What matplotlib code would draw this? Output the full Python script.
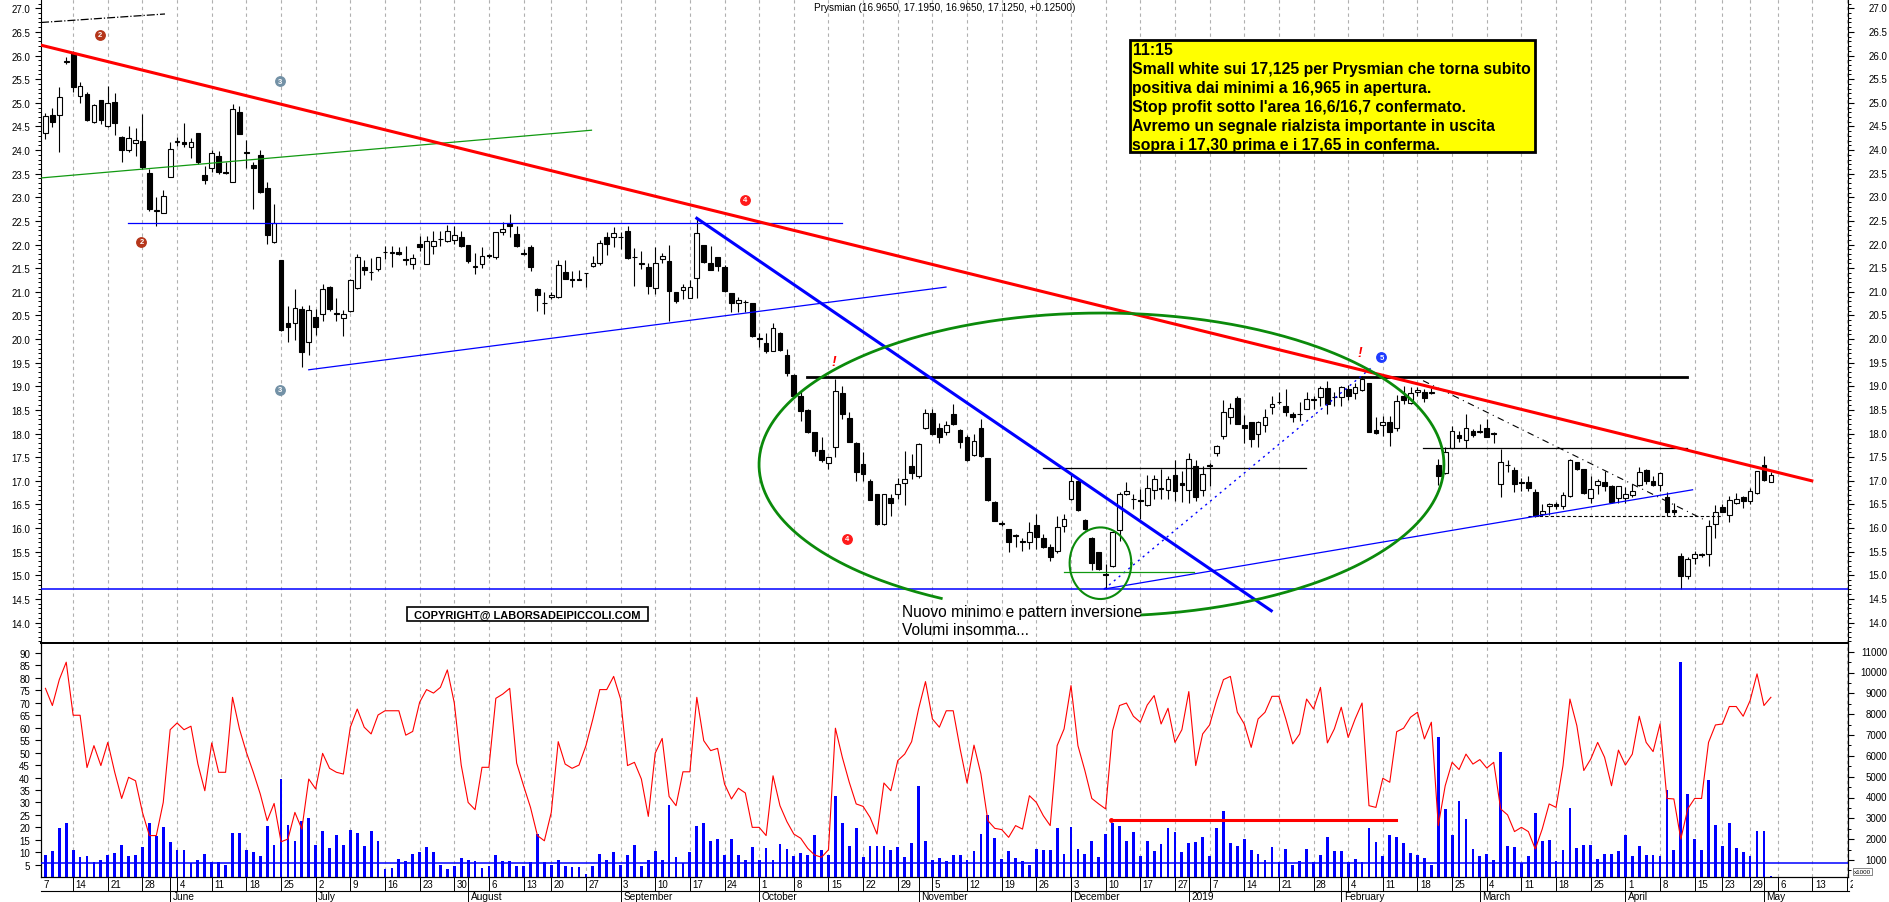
import numpy as np
import pandas as pd
import matplotlib
matplotlib.use("Agg")
import matplotlib.pyplot as plt
from matplotlib.patches import Rectangle
from matplotlib.ticker import MultipleLocator, FixedLocator, FormatStrFormatter
from matplotlib.transforms import Bbox, blended_transform_factory

plt.rcParams['font.family'] = ['Liberation Sans', 'DejaVu Sans']

# ------------------------------------------------------------------ data
# daily candles from 8 May 2018 to 3 May 2019 (Prysmian)
opens = [24.36, 24.74, 24.74, 25.87, 26.05, 25.15, 25.19, 24.6, 25.06, 24.5,
         25.01, 24.28, 24.01, 24.15, 24.2, 23.51, 22.72, 22.66, 23.44, 24.18,
         24.16, 24.06, 24.36, 23.47, 23.61, 23.87, 23.53, 23.33, 24.81, 23.96,
         23.68, 23.9, 23.19, 22.06, 21.67, 20.35, 20.34, 20.64, 19.93, 20.46,
         20.53, 21.11, 20.54, 20.44, 20.6, 21.09, 21.52, 21.42, 21.48, 21.85,
         21.83, 21.85, 21.69, 21.59, 22.01, 21.59, 21.96, 22.11, 22.07, 22.1,
         22.15, 21.99, 21.52, 21.59, 21.77, 21.73, 22.26, 22.45, 22.22, 21.82,
         21.94, 21.06, 20.77, 20.88, 20.88, 21.41, 21.26, 21.26, 21.39, 21.54,
         21.62, 22.17, 22.17, 22.16, 22.29, 21.74, 21.62, 21.53, 21.09, 21.69,
         21.66, 20.99, 21.04, 20.87, 21.29, 21.99, 21.61, 21.73, 21.52, 20.97,
         20.76, 20.79, 20.76, 20.02, 19.91, 19.75, 20.13, 19.66, 19.24, 18.79,
         18.5, 18.03, 17.66, 17.37, 17.72, 18.85, 18.32, 17.81, 17.36, 17.0,
         16.72, 16.09, 16.63, 16.72, 16.95, 17.32, 17.1, 18.11, 18.43, 18.11,
         18.03, 18.41, 18.08, 17.92, 17.55, 18.11, 17.48, 16.56, 16.1, 15.98,
         15.85, 15.72, 15.71, 16.06, 15.79, 15.59, 15.52, 16.05, 16.62, 17.0,
         16.18, 15.8, 15.49, 15.02, 15.2, 15.95, 16.72, 16.62, 16.59, 16.49,
         16.81, 16.84, 16.81, 17.12, 16.95, 16.81, 17.31, 16.81, 17.33, 17.59,
         17.94, 18.36, 18.75, 18.18, 18.25, 17.99, 18.18, 18.57, 18.67, 18.59,
         18.41, 18.42, 18.53, 18.73, 18.77, 18.96, 18.78, 18.77, 18.94, 18.86,
         18.92, 19.06, 18.08, 18.18, 18.24, 18.11, 18.8, 18.65, 18.87, 18.89,
         18.85, 17.33, 17.16, 17.69, 17.98, 17.86, 18.05, 18.03, 18.12, 18.01,
         16.93, 17.34, 17.23, 16.97, 16.97, 16.76, 16.3, 16.47, 16.5, 16.46,
         16.67, 17.39, 17.24, 16.64, 16.91, 16.98, 16.9, 16.63, 16.63, 16.69,
         16.92, 17.23, 16.99, 16.91, 16.65, 16.38, 15.4, 14.99, 15.37, 15.46,
         15.45, 16.09, 16.44, 16.28, 16.53, 16.65, 16.57, 16.74, 17.34, 16.965]
highs = [24.78, 24.9, 25.33, 25.96, 26.1, 25.43, 25.22, 24.97, 25.07, 25.36,
         25.2, 24.3, 24.5, 24.46, 24.76, 23.6, 23.0, 23.15, 24.16, 24.28,
         24.57, 24.25, 24.37, 23.67, 24.01, 23.97, 23.74, 24.97, 24.94, 24.22,
         23.74, 24.01, 23.32, 22.86, 21.68, 20.69, 21.07, 20.7, 20.73, 20.64,
         21.16, 21.12, 20.86, 20.61, 21.27, 21.81, 21.67, 21.71, 21.74, 21.98,
         21.98, 21.95, 21.98, 21.8, 22.19, 22.19, 22.28, 22.28, 22.42, 22.4,
         22.29, 22.0, 21.82, 21.94, 21.8, 22.27, 22.47, 22.65, 22.4, 21.9,
         21.99, 21.09, 20.99, 20.99, 21.67, 21.67, 21.43, 21.47, 21.4, 21.75,
         22.1, 22.27, 22.38, 22.26, 22.4, 21.92, 21.87, 21.62, 21.94, 21.82,
         21.99, 21.0, 21.16, 21.24, 22.54, 22.0, 21.98, 21.74, 21.57, 20.98,
         20.9, 20.83, 20.77, 20.13, 20.12, 20.35, 20.14, 19.79, 19.25, 18.87,
         18.52, 18.04, 17.92, 17.51, 19.15, 19.0, 18.45, 17.82, 17.6, 17.03,
         16.73, 16.73, 16.72, 17.07, 17.64, 17.57, 17.81, 18.52, 18.52, 18.22,
         18.27, 18.63, 18.09, 17.97, 17.99, 18.31, 17.49, 16.58, 16.16, 15.99,
         15.88, 15.8, 16.12, 16.3, 15.88, 15.66, 16.26, 16.3, 17.15, 17.01,
         16.19, 15.81, 15.5, 15.24, 15.92, 16.77, 16.97, 16.72, 16.83, 17.12,
         17.13, 17.26, 17.11, 17.43, 17.21, 17.59, 17.43, 17.32, 17.38, 17.76,
         18.7, 18.65, 18.79, 18.39, 18.25, 18.26, 18.52, 18.8, 18.87, 18.94,
         18.45, 18.66, 18.89, 18.8, 19.01, 19.12, 18.88, 19.01, 19.03, 19.08,
         19.22, 19.08, 18.34, 18.38, 18.38, 18.82, 19.0, 18.98, 18.99, 18.94,
         18.97, 17.46, 17.71, 18.17, 18.06, 18.41, 18.1, 18.2, 18.31, 18.04,
         17.67, 17.45, 17.29, 17.06, 17.11, 16.82, 16.51, 16.53, 16.55, 16.76,
         17.46, 17.4, 17.24, 17.11, 17.04, 17.21, 16.91, 16.9, 16.86, 16.93,
         17.29, 17.25, 17.11, 17.18, 16.77, 16.53, 15.47, 15.38, 15.52, 15.48,
         16.18, 16.49, 16.51, 16.68, 16.75, 16.67, 16.84, 17.21, 17.53, 17.195]
lows = [24.23, 24.48, 23.95, 25.83, 25.22, 25.0, 24.62, 24.58, 24.55, 24.48,
        24.32, 23.75, 23.95, 23.88, 23.6, 22.72, 22.4, 22.66, 23.44, 24.08,
        24.06, 23.83, 23.7, 23.28, 23.53, 23.49, 23.49, 23.32, 24.33, 23.63,
        22.75, 23.1, 22.01, 22.04, 20.18, 19.94, 19.97, 19.4, 19.66, 20.08,
        20.39, 20.6, 20.39, 20.06, 20.57, 21.06, 21.36, 21.24, 21.43, 21.7,
        21.52, 21.77, 21.57, 21.48, 21.87, 21.58, 21.8, 21.98, 22.06, 22.01,
        21.94, 21.61, 21.38, 21.5, 21.72, 21.7, 22.21, 22.15, 21.94, 21.78,
        21.43, 20.6, 20.53, 20.85, 20.86, 21.27, 21.11, 21.24, 21.11, 21.53,
        21.57, 21.78, 21.94, 21.9, 21.69, 21.13, 21.48, 20.95, 20.95, 21.62,
        20.39, 20.76, 20.85, 20.86, 20.87, 21.62, 21.46, 21.45, 21.0, 20.57,
        20.57, 20.58, 20.05, 19.84, 19.7, 19.74, 19.74, 19.22, 18.79, 18.27,
        18.01, 17.53, 17.39, 17.25, 17.5, 18.31, 17.82, 17.0, 17.0, 16.6,
        16.07, 16.07, 16.26, 16.61, 16.49, 17.04, 17.05, 18.1, 17.97, 17.81,
        17.96, 18.19, 17.69, 17.41, 17.53, 17.5, 16.58, 16.14, 16.05, 15.5,
        15.59, 15.52, 15.56, 15.56, 15.57, 15.31, 15.48, 15.91, 16.6, 16.36,
        15.96, 15.12, 15.11, 14.71, 15.17, 15.73, 16.7, 16.4, 16.19, 16.47,
        16.61, 16.61, 16.61, 16.58, 16.55, 16.54, 16.58, 16.68, 16.9, 17.52,
        17.88, 18.2, 18.2, 17.81, 17.71, 17.71, 18.03, 18.41, 18.62, 18.38,
        18.24, 18.27, 18.52, 18.52, 18.59, 18.41, 18.59, 18.59, 18.72, 18.73,
        18.9, 18.03, 17.99, 17.95, 17.73, 18.06, 18.63, 18.63, 18.8, 18.66,
        18.84, 16.92, 17.14, 17.69, 17.83, 17.69, 17.92, 18.02, 17.92, 17.8,
        16.65, 17.19, 16.77, 16.79, 16.79, 16.23, 16.26, 16.28, 16.4, 16.4,
        16.65, 17.22, 16.72, 16.53, 16.72, 16.79, 16.54, 16.54, 16.54, 16.65,
        16.9, 16.93, 16.9, 16.79, 16.26, 16.28, 14.71, 14.92, 15.24, 15.38,
        15.19, 15.78, 16.33, 16.12, 16.51, 16.42, 16.51, 16.72, 16.99, 16.965]
closes = [24.73, 24.6, 25.12, 25.89, 25.33, 25.35, 24.64, 24.96, 24.64, 24.99,
          24.57, 24.01, 24.25, 24.21, 23.65, 22.75, 22.74, 23.02, 24.02, 24.2,
          24.12, 24.16, 23.74, 23.37, 23.93, 23.53, 23.51, 24.87, 24.34, 23.94,
          23.63, 23.12, 22.21, 22.45, 20.2, 20.26, 20.65, 19.72, 20.62, 20.26,
          21.06, 20.64, 20.53, 20.52, 21.26, 21.73, 21.47, 21.41, 21.73, 21.84,
          21.84, 21.81, 21.68, 21.71, 21.94, 22.07, 22.07, 22.12, 22.28, 22.2,
          21.98, 21.65, 21.55, 21.75, 21.76, 22.26, 22.33, 22.4, 21.98, 21.81,
          21.52, 20.94, 20.76, 20.93, 21.57, 21.28, 21.25, 21.25, 21.39, 21.6,
          22.03, 22.01, 22.24, 22.15, 21.71, 21.73, 21.59, 21.13, 21.6, 21.76,
          21.02, 20.8, 21.11, 21.11, 22.24, 21.64, 21.47, 21.54, 21.02, 20.76,
          20.83, 20.78, 20.07, 20.01, 19.74, 20.23, 19.77, 19.28, 18.8, 18.48,
          18.03, 17.64, 17.45, 17.5, 18.91, 18.41, 17.83, 17.18, 17.14, 16.6,
          16.09, 16.72, 16.54, 16.93, 17.04, 17.17, 17.78, 18.43, 18.0, 17.92,
          18.19, 18.2, 17.83, 17.43, 17.85, 17.52, 16.6, 16.16, 16.09, 15.71,
          15.84, 15.7, 15.92, 15.82, 15.59, 15.38, 16.02, 16.19, 17.0, 16.38,
          15.98, 15.27, 15.13, 15.01, 15.91, 16.72, 16.79, 16.61, 16.58, 16.84,
          17.04, 16.83, 17.04, 16.78, 16.91, 17.46, 16.65, 17.14, 17.32, 17.74,
          18.45, 18.55, 18.2, 18.11, 17.88, 18.25, 18.36, 18.63, 18.66, 18.46,
          18.34, 18.41, 18.74, 18.72, 18.96, 18.63, 18.77, 18.98, 18.8, 18.98,
          19.15, 18.04, 18.01, 18.25, 18.04, 18.68, 18.7, 18.85, 18.92, 18.75,
          18.89, 17.11, 17.6, 18.05, 17.9, 18.12, 17.96, 18.05, 17.92, 18.0,
          17.39, 17.33, 16.93, 16.96, 16.84, 16.25, 16.37, 16.51, 16.46, 16.71,
          17.43, 17.24, 16.74, 16.83, 17.0, 16.88, 16.56, 16.88, 16.72, 16.79,
          17.18, 16.99, 16.92, 17.16, 16.35, 16.33, 14.99, 15.35, 15.45, 15.43,
          16.05, 16.35, 16.35, 16.59, 16.61, 16.57, 16.79, 17.2, 17.02, 17.125]
# volumes (x1000)
volumes = [1256, 1416, 2520, 2776, 1496, 1160, 1176, 888, 1000, 1240,
           1352, 1720, 1208, 1240, 1640, 2776, 2168, 2568, 1848, 1480,
           1480, 840, 1016, 1288, 888, 888, 760, 2280, 2280, 1480,
           1368, 1176, 2616, 1736, 4888, 2696, 1912, 2888, 3000, 1736,
           2376, 1560, 2216, 1736, 2440, 2280, 1656, 2408, 1896, 568,
           600, 1048, 952, 1272, 1384, 1608, 1368, 760, 568, 728,
           1080, 1000, 952, 600, 728, 1224, 936, 936, 728, 728,
           904, 2248, 904, 776, 1000, 728, 648, 648, 328, 728,
           1288, 1000, 1368, 744, 1240, 1720, 728, 1016, 1416, 1000,
           3640, 1144, 856, 1368, 2648, 2776, 1928, 2008, 1240, 2008,
           1240, 1000, 1608, 1016, 1560, 1016, 1768, 1528, 1208, 1336,
           1240, 2200, 1496, 1240, 4088, 2776, 1656, 2536, 1128, 1688,
           1688, 1656, 1496, 1608, 1128, 1816, 4568, 1896, 1016, 1096,
           936, 1240, 1240, 1016, 1416, 2248, 3176, 2040, 1048, 1432,
           1080, 968, 760, 1528, 1480, 1480, 2536, 1288, 2568, 1528,
           1288, 1896, 1128, 2248, 2776, 2648, 1896, 2360, 1208, 1928,
           1432, 1768, 2520, 2328, 1400, 1800, 1880, 2088, 1208, 2536,
           3368, 1816, 1656, 2008, 1496, 1288, 1016, 1608, 920, 1528,
           760, 968, 1528, 888, 1256, 2088, 1432, 1432, 888, 1048,
           920, 2536, 1848, 1176, 2200, 2088, 1816, 1336, 1240, 1080,
           760, 6888, 3448, 2216, 3816, 2968, 1528, 1176, 1288, 1016,
           6168, 1656, 1608, 856, 1176, 3256, 1896, 1976, 968, 1496,
           3480, 1576, 1720, 1720, 1048, 1288, 1288, 1432, 2200, 1208,
           1688, 1240, 1240, 1176, 4376, 1496, 10520, 4168, 2008, 1496,
           4840, 2680, 1688, 2776, 1576, 1400, 1176, 2408, 2408, 216]
# oscillator (0-100)
oscillator = [75.8, 68.9, 79.3, 86.3, 65, 65, 44, 52.8, 44.8, 54.1,
              42.1, 31.6, 40.1, 38.7, 26, 16.7, 16.7, 30, 59.2, 61.9,
              59.2, 60.6, 45.4, 34.7, 53.9, 42.1, 42.1, 72.2, 59.5, 50.1,
              42.1, 33.4, 22.7, 29.6, 14.2, 15.3, 26, 19.3, 39.4, 35.4,
              49.7, 43.7, 42.1, 41.4, 60.2, 67.5, 60.2, 57.5, 65.1, 66.8,
              66.8, 66.8, 57, 58.5, 70.2, 75.3, 73.9, 76.2, 83.2, 70,
              45, 30, 27.1, 44.1, 44.1, 71.8, 73.5, 75.8, 45.8, 36.7,
              28, 16.7, 14.6, 26, 54.4, 45.4, 43.7, 45, 52.8, 63.5,
              75.3, 75.3, 80.6, 71.5, 44.8, 46.1, 39.4, 24.4, 49.8, 55.7,
              32.4, 28.7, 42.3, 42.3, 72.2, 54.8, 50.8, 51.7, 37.4, 31.4,
              35.7, 33.8, 20, 20, 16.7, 40.7, 28.7, 22.3, 17.3, 15.6,
              11.6, 8.9, 8, 11, 59.8, 48.1, 38.1, 29.4, 28.4, 24,
              17.3, 37.8, 34.7, 46.8, 49.4, 54.4, 67.5, 78.5, 63.5, 60.2,
              66.8, 66.8, 51.5, 37.8, 53, 41.4, 22.7, 19.6, 19.1, 16,
              20.7, 19.3, 32.7, 30, 24.7, 20.7, 52.8, 59.5, 76.9, 52.8,
              42.8, 31.6, 29.4, 27.4, 58.8, 68.9, 69.9, 64.6, 62.2, 69.1,
              72.9, 61.5, 67.8, 54.1, 59.2, 74.5, 44.8, 57.5, 61.1, 70.9,
              79.3, 80.6, 66.2, 61.5, 52.1, 63.5, 66.2, 72.6, 72.6, 63.5,
              53.5, 57.5, 71.5, 67.5, 76.2, 53.9, 59.5, 68.2, 56.1, 63.5,
              69.9, 28.7, 28, 39.7, 38.1, 58.4, 59.8, 64.2, 66.2, 55.5,
              62.2, 20.7, 36.7, 46.1, 43.2, 49.4, 45.4, 47.2, 43.8, 46.1,
              27.4, 25, 18.3, 20, 18.3, 11.3, 19.3, 29.4, 28, 44.8,
              71.5, 60.8, 42.8, 47.4, 54.1, 48.1, 36.7, 51, 45, 49.4,
              64.6, 54.1, 50.4, 61.5, 31.6, 31.4, 15.3, 27.4, 31.6, 31.6,
              54.1, 61.1, 61.5, 68.5, 68.5, 64.6, 70.9, 81.6, 68.9, 72.2]

price_ticks = np.arange(14.0, 27.01, 0.5)
osc_ticks = list(range(5, 95, 5))
vol_ticks = list(range(1000, 11001, 1000))
month_names = {1: '2019', 2: 'February', 3: 'March', 4: 'April', 5: 'May', 6: 'June',
               7: 'July', 8: 'August', 9: 'September', 10: 'October',
               11: 'November', 12: 'December'}

# trading calendar (Borsa Italiana)
holidays = pd.to_datetime(['2018-08-15', '2018-12-24', '2018-12-25', '2018-12-26',
                           '2018-12-31', '2019-01-01', '2019-04-19', '2019-04-22',
                           '2019-05-01'])
days = pd.bdate_range('2018-05-07', '2019-05-20')
days = days[~days.isin(holidays)]

# ------------------------------------------------------------------ layout
W, H, DPI = 1890, 903, 100
AX_L, AX_R = 41, 1848.5
MAIN_B, LOW_B = 643.5, 878
X0, X1 = 0.36, 261.2
P_LO, P_HI = 13.578, 27.197
O_LO, O_HI = 0.07, 94.2
V_LO, V_HI = 184, 11440

fig = plt.figure(figsize=(W / DPI, H / DPI), dpi=DPI)
fig.patch.set_facecolor('white')

ax = fig.add_axes([AX_L / W, 1 - MAIN_B / H, (AX_R - AX_L) / W, MAIN_B / H])
ax2 = fig.add_axes([AX_L / W, 1 - LOW_B / H, (AX_R - AX_L) / W, (LOW_B - MAIN_B) / H])
ax2o = ax2.twinx()
ov = fig.add_axes([0, 0, 1, 1])
ov.set_xlim(0, W)
ov.set_ylim(H, 0)
ov.axis('off')

def ipx(i):
    return AX_L + (i - X0) / (X1 - X0) * (AX_R - AX_L)

# week / month ticks
week_idx = []
for i in range(len(days)):
    if i == 0 or days[i].isocalendar()[1] != days[i - 1].isocalendar()[1]:
        if days[i] != pd.Timestamp('2019-01-02'):
            week_idx.append(i)
month_idx = [i for i in range(1, len(days)) if days[i].month != days[i - 1].month]

grid_kw = dict(color='#b0b0b0', lw=0.8, ls=(0, (3, 3)), zorder=0)
for i in week_idx:
    if i > 0:
        ax.axvline(i, **grid_kw)
        ax2.axvline(i, **grid_kw)

# ------------------------------------------------------------------ candles
o = np.array(opens); h = np.array(highs); l = np.array(lows); c = np.array(closes)
idx = np.arange(1, len(c) + 1)
up = c >= o
ax.vlines(idx, l, h, color='black', lw=0.8, zorder=3)
ax.bar(idx, np.maximum(np.abs(c - o), 0.012), bottom=np.minimum(o, c), width=0.68,
       color=np.where(up, 'white', 'black'), edgecolor='black', linewidth=0.8, zorder=4)

# ------------------------------------------------------------------ drawings (main)
LW_T = 2.2
ax.plot([0.36, 255.9], [26.22, 17.0], color='#ff0000', lw=LW_T, zorder=6)          # red trend
ax.plot([0.36, 18.25], [26.70, 26.88], color='black', lw=0.9, ls='-.', zorder=5)
ax.plot([0.36, 79.8], [23.41, 24.42], color='#119911', lw=0.9, zorder=5)          # green
ax.plot([12.9, 115.9], [22.45, 22.45], color='#0000ff', lw=0.9, zorder=5)         # blue horiz
ax.plot([95.0, 177.9], [22.556, 14.25], color='#0000ff', lw=LW_T, zorder=6)       # blue diag
ax.plot([39.0, 130.96], [19.35, 21.1], color='#0000ff', lw=0.9, zorder=5)
ax.plot([110.9, 237.9], [19.2, 19.2], color='black', lw=2.0, zorder=5)
ax.plot([144.9, 182.9], [17.265, 17.265], color='black', lw=0.9, zorder=5)
ax.plot([199.8, 237.9], [17.69, 17.69], color='black', lw=0.9, zorder=5)
ax.plot([215.0, 243.0], [16.25, 16.25], color='black', lw=0.8, ls=(0, (3, 2)), zorder=5)
ax.plot([199.8, 240.6], [19.12, 16.16], color='black', lw=0.8, ls=(0, (6, 4, 1, 4)), zorder=5)
ax.plot([153.8, 238.7], [14.71, 16.81], color='#0000ff', lw=0.9, zorder=5)
ax.plot([153.8, 192.4], [14.71, 19.4], color='#0000ff', lw=1.0, ls=(0, (1.5, 3)), zorder=5)
ax.axhline(14.71, color='#0000ff', lw=1.1, zorder=5)
ax.plot([148.0, 166.8], [15.08, 15.08], color='#119911', lw=0.9, zorder=5)

# big ellipse (with gap at the bottom for the note)
t = np.radians(np.linspace(117.9, 443.2, 400))
ax.plot(153.4 + 49.42 * np.cos(t), 17.345 - 3.206 * np.sin(t), color='#0b8a0b', lw=2.0, zorder=6)
# small circle round the new low
t2 = np.linspace(0, 2 * np.pi, 200)
ax.plot(153.25 + 4.45 * np.cos(t2), 15.256 + 0.758 * np.sin(t2), color='#0b8a0b', lw=1.5, zorder=6)

# numbered markers
markers = [(8.93, 26.44, '2', '#b5361a'), (14.86, 22.06, '2', '#b5361a'),
           (34.9, 25.455, '3', '#7391a6'), (34.9, 18.93, '3', '#7391a6'),
           (101.9, 22.95, '4', '#ff1a1a'), (116.7, 15.77, '4', '#ff1a1a'),
           (193.8, 19.61, '5', '#1f3cff')]
for (mi, mp, d, col) in markers:
    ax.plot(mi, mp, 'o', ms=6.8, mfc=col, mec=col, zorder=7)
    ax.text(mi, mp, d, color='white', fontsize=5.5, fontweight='bold',
            ha='center', va='center', zorder=8)
for (mi, mp) in [(114.8, 19.54), (190.7, 19.72)]:
    ax.text(mi, mp, '!', color='#ff0000', fontsize=10, fontweight='bold',
            fontstyle='italic', ha='center', va='center', zorder=8)

ax.set_xlim(X0, X1)
ax.set_ylim(P_LO, P_HI)

# ------------------------------------------------------------------ lower panel
ax2.bar(idx, volumes, width=0.4, color='#0000ff', zorder=2)
ax2.set_ylim(V_LO, V_HI)
ax2.set_xlim(X0, X1)
ax2o.plot(idx, oscillator, color='#ff0000', lw=0.8, zorder=3)
ax2o.axhline(5.55, color='#0000ff', lw=1.1, zorder=3)
ax2o.plot([154.7, 195.9], [23.1, 23.1], color='#ff0000', lw=2.2, zorder=4)
ax2o.plot(154.7, 23.1, 'o', ms=2.5, color='#ff0000', zorder=4)
ax2o.set_ylim(O_LO, O_HI)
ax2o.set_xlim(X0, X1)

# ------------------------------------------------------------------ axes styling
for a in (ax, ax2, ax2o):
    a.tick_params(axis='x', bottom=False, top=False, labelbottom=False, labeltop=False)
    for s in a.spines.values():
        s.set_linewidth(0.8)
ax.spines['top'].set_visible(False)
ax.spines['bottom'].set_linewidth(1.3)
ax2.spines['top'].set_linewidth(1.3)
ax2o.spines['top'].set_linewidth(1.3)

ax.yaxis.set_major_locator(FixedLocator(price_ticks))
ax.yaxis.set_minor_locator(MultipleLocator(0.1))
ax.yaxis.set_major_formatter(FormatStrFormatter('%.1f'))
ax.tick_params(axis='y', which='major', left=True, right=True, length=4.5, width=0.8,
               labelsize=7, pad=3.4, labelleft=True, labelright=False)
ax.tick_params(axis='y', which='minor', left=True, right=True, length=2.3, width=0.7)

ax2.yaxis.tick_right()
ax2.yaxis.set_major_locator(FixedLocator(vol_ticks))
ax2.yaxis.set_minor_locator(MultipleLocator(500))
ax2.tick_params(axis='y', which='major', right=True, left=False, length=4.5, width=0.8,
                labelright=False, labelleft=False)
ax2.tick_params(axis='y', which='minor', right=True, left=False, length=2.3, width=0.7)

ax2o.yaxis.tick_left()
ax2o.yaxis.set_major_locator(FixedLocator(osc_ticks))
ax2o.tick_params(axis='y', which='major', left=True, right=False, length=4.5, width=0.8,
                 labelsize=7, pad=3.4, labelleft=True, labelright=False)

# right side labels, right-aligned
tr_main = blended_transform_factory(ov.transData, ax.transData)
for v in price_ticks:
    fig.text(1887, v, f'{v:.1f}', transform=tr_main, ha='right', va='center', fontsize=7)
tr_vol = blended_transform_factory(ov.transData, ax2.transData)
for v in vol_ticks:
    fig.text(1887, v, f'{v}', transform=tr_vol, ha='right', va='center', fontsize=7)
ov.text(1862, 872.5, 'x1000', fontsize=4.5, ha='center', va='center',
        bbox=dict(boxstyle='square,pad=0.15', fc='white', ec='#555555', lw=0.5))

# ------------------------------------------------------------------ date axis
ov.plot([AX_L, AX_R], [891.7, 891.7], color='black', lw=0.8)
clip = Bbox([[AX_L, 0], [AX_R + 4, H]])
for i in week_idx:
    x = ipx(i)
    if x >= AX_L:
        ov.plot([x, x], [LOW_B, 891.7], color='black', lw=0.7)
    tx = ov.text(max(x, AX_L) + 2.5, 885, str(days[i].day), fontsize=7,
                 ha='left', va='center')
    tx.set_clip_box(clip)
    tx.set_clip_on(True)
for i in month_idx:
    x = ipx(i)
    ov.plot([x, x], [LOW_B, H], color='black', lw=0.7)
    ov.text(x + 2.5, 897.5, month_names[days[i].month], fontsize=7.3,
            ha='left', va='center')

# ------------------------------------------------------------------ texts
ov.text(945, 8.3, 'Prysmian (16.9650, 17.1950, 16.9650, 17.1250, +0.12500)',
        fontsize=7.2, ha='center', va='center')

ov.add_patch(Rectangle((1129.5, 40.7), 405.5, 112.6, fc='#ffff00', ec='black', lw=2.0, zorder=10))
box_lines = ['11:15',
             'Small white sui 17,125 per Prysmian che torna subito',
             'positiva dai minimi a 16,965 in apertura.',
             "Stop profit sotto l'area 16,6/16,7 confermato.",
             'Avremo un segnale rialzista importante in uscita',
             'sopra i 17,30 prima e i 17,65 in conferma.']
for k, s in enumerate(box_lines):
    ov.text(1132.5, 55 + 19 * k, s, fontsize=11.3, fontweight='bold', ha='left',
            va='baseline', zorder=11)

ov.add_patch(Rectangle((407, 608.3), 241, 14, fc='white', ec='black', lw=1.2, zorder=10))
ov.text(527.5, 615.6, 'COPYRIGHT@ LABORSADEIPICCOLI.COM', fontsize=7.9, fontweight='bold',
        ha='center', va='center', zorder=11)

ov.text(902, 616.7, 'Nuovo minimo e pattern inversione', fontsize=11.2, ha='left',
        va='baseline', zorder=11)
ov.text(902, 635.5, 'Volumi insomma...', fontsize=11.2, ha='left', va='baseline', zorder=11)

fig.savefig('out.png', dpi=DPI)
